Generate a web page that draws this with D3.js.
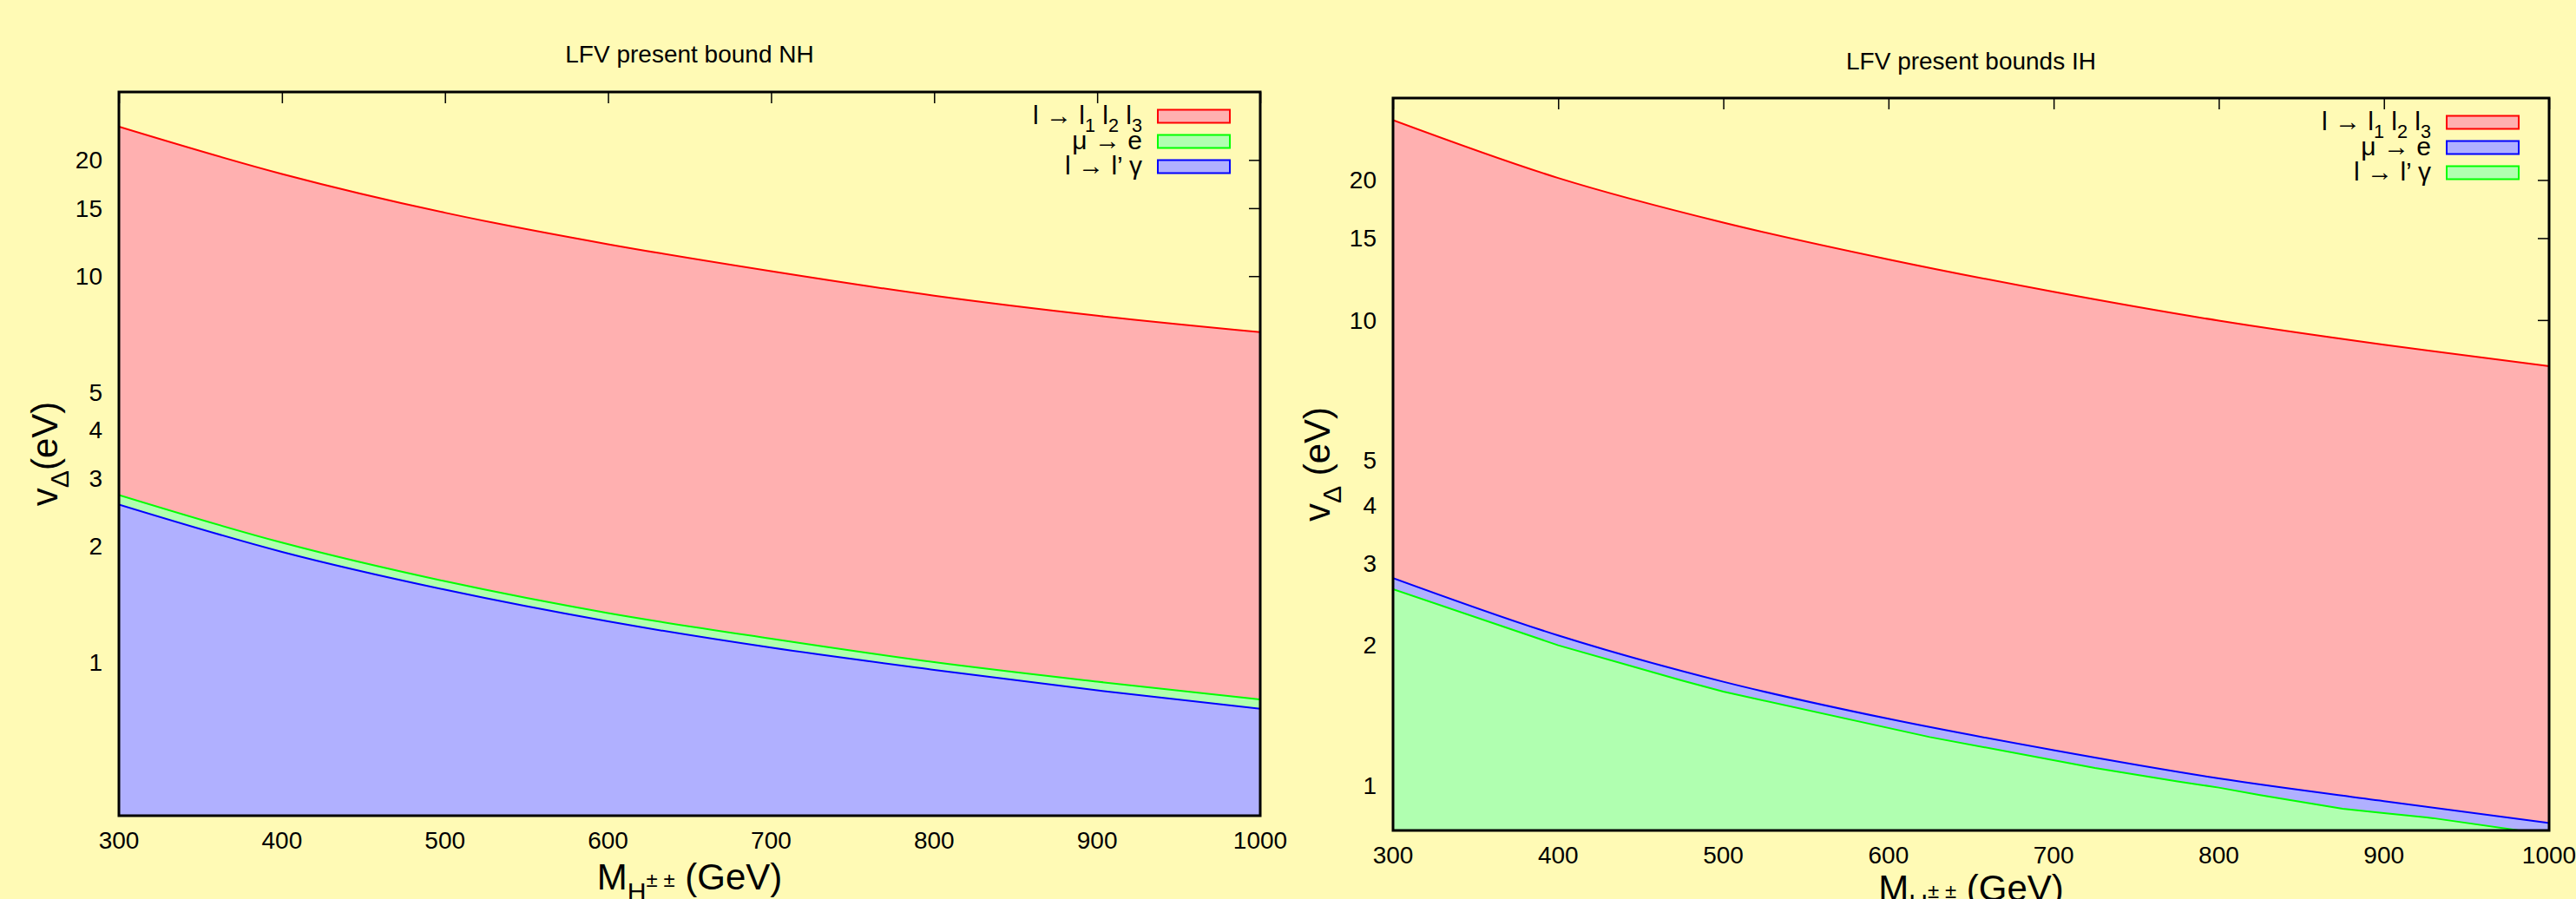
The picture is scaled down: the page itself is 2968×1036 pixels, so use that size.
<!DOCTYPE html>
<html>
<head>
<meta charset="UTF-8">
<title>LFV present bounds</title>
<script src="https://cdn.jsdelivr.net/npm/d3@7"></script>
<style>
  body { margin: 0; background: #fffab5; }
  svg text { font-family: "Liberation Sans", Arial, sans-serif; fill: #000; }
</style>
</head>
<body>
<script>

// ---- data ----
var massTicks = [300, 400, 500, 600, 700, 800, 900, 1000];
var vTicks = [1, 2, 3, 4, 5, 10, 15, 20];

// normal hierarchy (left)
var massNH = [300, 400, 500, 600, 700, 800, 900, 1000];
var lllNH  = [24.4, 18.4, 14.6, 12.1, 10.3, 8.9, 7.9, 7.16];
var mueNH  = [2.71, 2.04, 1.62, 1.34, 1.15, 1.0, 0.89, 0.80];
var lgNH   = [2.56, 1.93, 1.54, 1.275, 1.09, 0.955, 0.845, 0.757];

// inverted hierarchy (right)
var massIH = [300, 400, 500, 600, 700, 800, 900, 1000];
var lllIH  = [26.9, 20.2, 16.2, 13.5, 11.5, 9.97, 8.85, 7.96];
var mueIH  = [2.79, 2.10, 1.67, 1.39, 1.19, 1.035, 0.925, 0.83];
var massLgIH = [300, 400, 475, 500, 625, 725, 775, 800, 825, 875, 900, 930, 980, 1000];
var lgIH     = [2.64, 2.0, 1.68, 1.59, 1.27, 1.09, 1.02, 0.989, 0.953, 0.891, 0.872, 0.85, 0.802, 0.78];

var fillCol = {red: "#ffb0b0", green: "#b0ffb0", blue: "#b0b0ff"};
var lineCol = {red: "#ff0000", green: "#00ff00", blue: "#0000ff"};

var svg = d3.select("body").append("svg")
    .attr("width", 2968)
    .attr("height", 1036);

svg.append("rect").attr("width", 2968).attr("height", 1036).attr("fill", "#fffab5");

// writes a text made of pieces with sub / superscripts
function rich(sel, parts, size) {
    var shift = 0;
    parts.forEach(function (p) {
        var target = p.sub ? size * 0.3 : (p.sup ? -size * 0.38 : (p.shift || 0));
        sel.append("tspan")
            .attr("dy", target - shift)
            .attr("font-size", p.size || ((p.sub || p.sup) ? size * 0.72 : size))
            .text(p.t);
        shift = target;
    });
}

function zip(xs, ys) {
    return xs.map(function (x, i) { return {m: x, v: ys[i]}; });
}

function panel(cfg) {
    var x = d3.scaleLinear().domain([300, 1000]).range([cfg.left, cfg.right]);
    var y = d3.scaleLog().domain([cfg.ymin, 30]).range([cfg.bottom, cfg.top]);
    var g = svg.append("g");
    var tick = 13;

    // ticks (inward, mirrored) - drawn first, fills cover them
    g.append("g").attr("transform", "translate(0," + cfg.top + ")")
        .call(d3.axisTop(x).tickValues(massTicks).tickSize(-tick).tickFormat(""))
        .call(function (a) { a.select(".domain").remove(); a.selectAll("line").attr("stroke-width", 1.5); });
    g.append("g").attr("transform", "translate(" + cfg.right + ",0)")
        .call(d3.axisRight(y).tickValues(vTicks).tickSize(-tick).tickFormat(""))
        .call(function (a) { a.select(".domain").remove(); a.selectAll("line").attr("stroke-width", 1.5); });

    var clipId = "clip" + cfg.id;
    svg.append("defs").append("clipPath").attr("id", clipId)
        .append("rect").attr("x", cfg.left).attr("y", cfg.top)
        .attr("width", cfg.right - cfg.left).attr("height", cfg.bottom - cfg.top);

    var plot = g.append("g").attr("clip-path", "url(#" + clipId + ")");

    cfg.series.forEach(function (s) {
        var pts = zip(s.mass, s.vals);
        var curve = s.jagged ? d3.curveLinear : d3.curveMonotoneX;
        var area = d3.area().curve(curve)
            .x(function (d) { return x(d.m); })
            .y0(cfg.bottom + 5)
            .y1(function (d) { return y(d.v); });
        var line = d3.line().curve(curve)
            .x(function (d) { return x(d.m); })
            .y(function (d) { return y(d.v); });
        plot.append("path").datum(pts).attr("d", area).attr("fill", fillCol[s.col]);
        plot.append("path").datum(pts).attr("d", line)
            .attr("fill", "none").attr("stroke", lineCol[s.col]).attr("stroke-width", 2);
    });

    // frame
    g.append("rect").attr("x", cfg.left).attr("y", cfg.top)
        .attr("width", cfg.right - cfg.left).attr("height", cfg.bottom - cfg.top)
        .attr("fill", "none").attr("stroke", "#000").attr("stroke-width", 3);

    // tick labels
    g.selectAll(".xl").data(massTicks).enter().append("text")
        .attr("x", function (d) { return x(d); })
        .attr("y", cfg.bottom + 38)
        .attr("text-anchor", "middle").attr("font-size", 28)
        .text(function (d) { return d; });
    g.selectAll(".yl").data(vTicks).enter().append("text")
        .attr("x", cfg.left - 19)
        .attr("y", function (d) { return y(d); })
        .attr("dy", "0.35em")
        .attr("text-anchor", "end").attr("font-size", 28)
        .text(function (d) { return d; });

    // title
    g.append("text").attr("x", (cfg.left + cfg.right) / 2).attr("y", cfg.titleY)
        .attr("text-anchor", "middle").attr("font-size", 28).text(cfg.title);

    // axis titles
    var xt = g.append("text").attr("x", (cfg.left + cfg.right) / 2).attr("y", cfg.xTitleY)
        .attr("text-anchor", "middle");
    rich(xt, [{t: "M"}, {t: "H", sub: true}, {t: "\u00b1 \u00b1", shift: -3, size: 24}, {t: " (GeV)", shift: 0}], 42);

    var yt = g.append("text")
        .attr("transform", "translate(" + cfg.yTitleX + "," + (cfg.top + cfg.bottom) / 2 + ") rotate(-90)")
        .attr("text-anchor", "middle");
    rich(yt, [{t: "v"}, {t: "\u0394", sub: true}, {t: cfg.yUnit}], 42);

    // legend
    var lg = g.append("g");
    cfg.series.forEach(function (s, i) {
        var cy = cfg.top + 28 + i * 29;
        lg.append("rect").attr("x", cfg.right - 118).attr("y", cy - 7.5)
            .attr("width", 83).attr("height", 15)
            .attr("fill", fillCol[s.col]).attr("stroke", lineCol[s.col]).attr("stroke-width", 2);
        var t = lg.append("text").attr("x", cfg.right - 136).attr("y", cy + 9)
            .attr("text-anchor", "end");
        rich(t, s.label, 30);
    });
}

var labL3 = [{t: "l \u2192 l"}, {t: "1", sub: true}, {t: " l"}, {t: "2", sub: true}, {t: " l"}, {t: "3", sub: true}];
var labMuE = [{t: "\u03bc \u2192 e"}];
var labLG = [{t: "l \u2192 l\u2019 \u03b3"}];

panel({
    id: "NH", left: 137, right: 1452, top: 106, bottom: 940, ymin: 0.4,
    title: "LFV present bound NH", titleY: 72, xTitleY: 1025, yTitleX: 66, yUnit: "(eV)",
    series: [
        {col: "red", mass: massNH, vals: lllNH, label: labL3},
        {col: "green", mass: massNH, vals: mueNH, label: labMuE},
        {col: "blue", mass: massNH, vals: lgNH, label: labLG}
    ]
});

panel({
    id: "IH", left: 1605, right: 2937, top: 113, bottom: 957, ymin: 0.8,
    title: "LFV present bounds IH", titleY: 80, xTitleY: 1038, yTitleX: 1532, yUnit: " (eV)",
    series: [
        {col: "red", mass: massIH, vals: lllIH, label: labL3},
        {col: "blue", mass: massIH, vals: mueIH, label: labMuE},
        {col: "green", mass: massLgIH, vals: lgIH, label: labLG, jagged: true}
    ]
});

</script>
</body>
</html>
